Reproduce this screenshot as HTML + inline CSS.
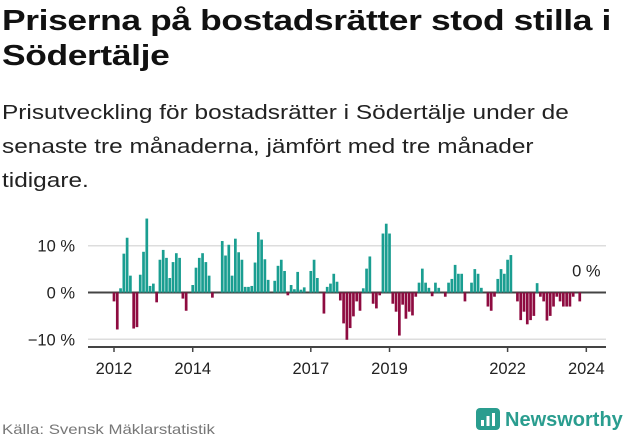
<!DOCTYPE html>
<html><head><meta charset="utf-8">
<style>
body{margin:0;width:631px;height:439px;background:#fff;font-family:"Liberation Sans",sans-serif;overflow:hidden;position:relative}
h1{position:absolute;left:2px;top:4px;margin:0;font-size:29px;line-height:35px;font-weight:bold;color:#111;letter-spacing:-0.3px;transform:scaleX(1.22);transform-origin:0 0;white-space:nowrap}
.sub{position:absolute;left:2px;top:96px;margin:0;font-size:20.5px;line-height:34px;color:#222;transform:scaleX(1.19);transform-origin:0 0;white-space:nowrap}
.src{position:absolute;left:2px;top:421px;font-size:14px;color:#777;transform:scaleX(1.2);transform-origin:0 0;white-space:nowrap}
.logo{position:absolute;left:476px;top:408px;display:flex;align-items:center}
.logo span{font-size:20px;font-weight:bold;color:#2a9d8f;margin-left:5px}
</style></head><body>
<h1>Priserna på bostadsrätter stod stilla i<br>Södertälje</h1>
<p class="sub">Prisutveckling för bostadsrätter i Södertälje under de<br>senaste tre månaderna, jämfört med tre månader<br>tidigare.</p>
<svg id="chart" width="631" height="439" style="position:absolute;left:0;top:0"></svg>
<div class="src">Källa: Svensk Mäklarstatistik</div>
<div class="logo">
<svg width="24" height="24" viewBox="0 0 24 24"><rect x="0" y="0" width="24" height="22" rx="4" fill="#2a9d8f"/><rect x="5" y="12" width="3" height="6" fill="#fff"/><rect x="10.5" y="8" width="3" height="10" fill="#fff"/><rect x="16" y="5" width="3" height="13" fill="#fff"/></svg>
<span>Newsworthy</span></div>
<script>
const values=[-1.9,-7.9,0.9,8.3,11.7,3.6,-7.7,-7.4,3.8,8.7,15.8,1.4,1.9,-2.1,7,9.1,7.4,3.1,6.5,8.4,7.4,-1.3,-3.9,0,1.6,5.3,7.4,8.4,6.5,3.6,-1.1,0,0,11,7.9,10.2,3.6,11.5,8.6,7,1.2,1.2,1.4,6.4,12.9,11.3,7.1,2.7,0,2.5,5.7,7,4.6,-0.6,1.6,0.7,4.4,0.6,1.1,0,4.6,7,3.1,0,-4.5,1.2,1.9,4,2.3,-1.7,-6.6,-10.1,-7.6,-5.1,-1.9,-3.9,0.9,5.1,7.7,-2.4,-3.4,-0.6,12.6,14.7,12.6,-2.4,-4.1,-9.2,-2.6,-5.6,-4.1,-4.9,-0.9,2.1,5.1,2.1,1,-0.8,2.1,1,0,-0.9,2.1,2.9,5.9,4,4,-1.9,0,2.1,5,4,1,0,-3,-3.9,-0.9,2.9,5,4,7,8,0,-1.9,-5.9,-4.1,-6.8,-5.9,-5,2,-0.9,-1.9,-6,-5,-3,-0.9,-1.9,-3,-3,-3,-0.9,0,-1.9,0,0];
const startYear=2012;
const xTickYears=[2012,2014,2017,2019,2022,2024];
const yTicks=[10,0,-10];
const yTickLabels=["10 %","0 %","−10 %"];
const lastLabel="0 %";
const svg=document.getElementById('chart');const NS='http://www.w3.org/2000/svg';
const x0=114,pxMonth=3.28;
const xm=m=>x0+m*pxMonth;
const y=v=>292.5-v*4.68;
function mk(t,a){const e=document.createElementNS(NS,t);for(const k in a)e.setAttribute(k,a[k]);svg.appendChild(e);return e;}
yTicks.forEach((t,i)=>{
 const g=mk('line',{x1:88,x2:606,y1:y(t),y2:y(t),stroke:t===0?'#444':'#ddd','stroke-width':t===0?2:1.5});
 
 
 const l=mk('text',{x:75,y:y(t)+6,'text-anchor':'end','font-size':16.5,fill:'#222','font-family':'Liberation Sans, sans-serif'});
 l.textContent=yTickLabels[i];
 
 
});
values.forEach((v,i)=>{
 if(v===0)return;
 const yy=Math.min(y(v),y(0)),h=Math.abs(y(v)-y(0));
 const b=mk('rect',{x:xm(i)-1.35,y:yy,width:2.7,height:h,fill:v>0?'#1a9e91':'#8e0b40'});
 
 
});
const ax=mk('line',{x1:88,x2:606,y1:347,y2:347,stroke:'#444','stroke-width':2});


xTickYears.forEach(yr=>{
 const xx=xm((yr-startYear)*12);
 const t=mk('line',{x1:xx,x2:xx,y1:347,y2:352,stroke:'#444','stroke-width':1.5});
 
 
 const l=mk('text',{x:xx,y:374,'text-anchor':'middle','font-size':16.5,fill:'#222','font-family':'Liberation Sans, sans-serif'});
 l.textContent=yr;
 
 
});
const ll=mk('text',{x:xm(values.length-1),y:y(values[values.length-1])-16,'text-anchor':'middle','font-size':16.5,fill:'#222','font-family':'Liberation Sans, sans-serif'});
ll.textContent=lastLabel;


</script>
</body></html>
